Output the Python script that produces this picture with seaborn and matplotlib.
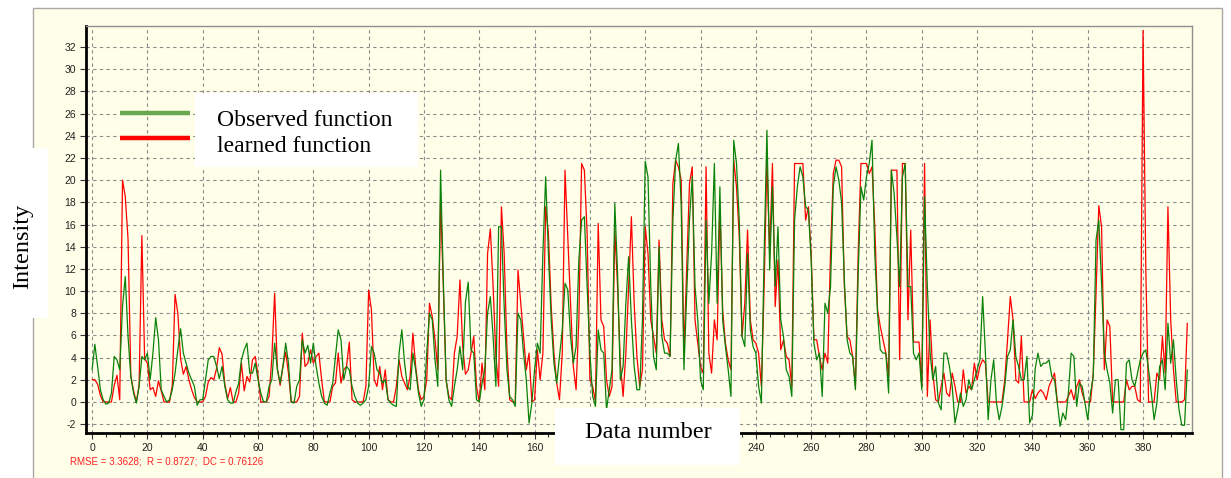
import numpy as np
import pandas as pd
import matplotlib
matplotlib.use("Agg")
import matplotlib.pyplot as plt
from matplotlib.patches import Rectangle
from matplotlib.lines import Line2D
from matplotlib.ticker import MultipleLocator
import seaborn as sns

# Observed intensity series (one value per data number, 0..396)
observed = [
    2.9, 5.2, 3.2, 1.1, 0.2, -0.2, -0.1, 0.8, 4.1, 3.8,
    2.9, 8.6, 11.3, 5.9, 2.3, 0.8, -0.1, 1.4, 4.1, 3.8,
    4.4, 2.0, 4.4, 7.6, 5.6, 1.1, 0.5, 0.0, 0.2, 1.1,
    2.6, 4.7, 6.6, 4.4, 3.5, 2.6, 2.0, 1.4, -0.3, 0.2,
    0.2, 2.0, 3.8, 4.1, 4.1, 3.2, 2.1, 3.2, 1.4, 0.2,
    -0.1, -0.1, 0.9, 1.7, 3.8, 4.7, 5.3, 2.6, 2.6, 3.5,
    2.0, 0.8, 0.0, 0.0, 1.4, 2.0, 5.3, 2.9, 1.7, 3.2,
    5.3, 3.5, 0.0, -0.1, 1.4, 2.0, 5.6, 4.4, 5.1, 3.5,
    5.3, 3.2, 1.7, 0.5, -0.1, -0.3, 0.8, 1.7, 4.1, 6.5,
    5.6, 2.0, 3.2, 2.9, 1.4, 0.5, -0.1, -0.3, -0.1, 0.2,
    1.4, 5.0, 4.4, 2.9, 2.6, 1.7, 2.0, 0.2, -0.1, -0.3,
    -0.4, 4.4, 6.5, 3.5, 1.4, 1.1, 4.4, 2.9, 0.8, -0.4,
    0.2, 4.4, 8.0, 7.4, 3.8, 1.4, 20.9, 11.0, 2.0, 0.2,
    -0.4, 1.4, 2.9, 5.0, 2.9, 9.0, 10.8, 4.7, 4.4, 0.2,
    0.0, 1.7, 2.9, 8.0, 9.5, 5.9, 1.4, 15.8, 15.8, 8.6,
    2.9, 0.5, 0.2, -0.4, 8.0, 7.4, 4.4, 2.0, -1.9, -0.1,
    2.9, 5.3, 4.4, 13.4, 20.3, 13.4, 7.4, 3.5, 1.7, 4.1,
    6.5, 10.7, 10.1, 5.9, 3.5, 5.0, 12.8, 16.4, 16.7, 10.4,
    4.4, 0.5, -0.4, 6.5, 4.7, 4.4, -0.7, 1.1, 2.9, 17.9,
    11.6, 2.0, 3.2, 8.9, 13.1, 7.4, 3.2, 1.1, 1.1, 7.4,
    21.7, 20.3, 10.4, 4.1, 2.9, 14.0, 5.9, 4.4, 4.4, 4.1,
    16.4, 21.8, 23.3, 17.9, 2.9, 9.8, 16.4, 20.3, 10.4, 7.4,
    2.0, 1.1, 16.4, 8.9, 13.4, 21.5, 8.9, 19.4, 7.4, 5.0,
    2.9, 0.5, 23.6, 21.5, 16.4, 5.9, 5.0, 13.4, 6.5, 5.0,
    4.4, 1.4, -0.1, 13.4, 24.5, 11.9, 19.4, 10.4, 15.8, 7.4,
    5.9, 2.9, 2.3, 0.5, 16.4, 19.4, 21.2, 20.3, 17.6, 17.3,
    12.8, 5.3, 3.8, 4.4, 0.5, 8.9, 8.0, 10.4, 19.4, 21.2,
    20.0, 18.0, 11.0, 5.6, 4.4, 4.1, 1.1, 11.6, 19.4, 18.2,
    20.3, 21.5, 23.6, 13.4, 8.0, 4.7, 4.4, 4.4, 0.8, 20.9,
    18.8, 14.9, 10.4, 20.3, 21.5, 10.4, 10.4, 4.4, 3.8, 4.4,
    1.1, 18.5, 10.4, 4.4, 2.0, 3.2, -0.1, -0.7, 4.4, 4.4,
    3.2, 1.4, -1.9, -0.7, 0.8, -0.4, 0.2, 2.0, 1.1, 2.0,
    2.9, 3.8, 9.5, 4.4, -1.6, 2.0, 3.8, -0.1, -1.6, -0.4,
    1.4, 4.1, 4.7, 7.4, 4.1, 3.2, 2.0, 2.0, 4.1, -1.9,
    -1.2, 3.0, 4.4, 3.2, 3.5, 3.5, 3.8, 2.3, 2.0, -0.1,
    -2.2, -1.0, -1.6, 0.8, 4.4, 4.1, -0.4, 1.7, 1.4, -0.1,
    -1.6, 0.8, 2.3, 14.6, 16.4, 10.7, 4.4, 2.9, 1.7, -1.0,
    2.0, 2.0, -2.5, -2.5, 3.5, 3.8, 2.0, 1.4, 2.6, 3.8,
    4.4, 4.7, 2.9, 0.8, -1.6, -0.1, 3.2, 3.8, 1.1, 7.1,
    3.5, 5.6, 2.0, -0.7, -2.1, -2.1, 2.9,
]

# Learned (model) intensity series
learned = [
    2.0, 2.0, 1.6, 0.6, 0.0, 0.0, 0.0, 0.0, 1.5, 2.4,
    0.2, 20.0, 18.5, 14.7, 2.4, 1.0, 0.0, 1.5, 15.0, 3.9,
    3.5, 1.1, 1.3, 0.5, 1.9, 1.0, 0.0, 0.0, 0.0, 1.5,
    9.7, 8.0, 3.9, 2.5, 3.2, 2.0, 1.1, 0.4, 0.0, 0.0,
    0.0, 0.5, 1.8, 2.2, 2.0, 3.0, 4.9, 4.3, 1.6, 0.3,
    1.3, 0.0, 0.0, 0.8, 3.5, 1.0, 2.3, 1.8, 3.8, 4.1,
    2.4, 0.0, 0.0, 0.0, 0.5, 4.0, 9.8, 3.0, 1.5, 3.2,
    4.5, 2.6, 0.0, 0.0, 0.0, 0.5, 6.2, 3.2, 3.5, 4.7,
    3.5, 4.1, 4.4, 2.0, 0.0, 0.0, 0.0, 1.4, 1.7, 4.4,
    1.7, 2.9, 3.2, 5.4, 0.2, 0.0, 0.0, 0.0, 0.0, 1.4,
    10.1, 8.3, 2.0, 1.4, 3.2, 1.1, 2.9, 0.2, 0.0, 0.0,
    1.4, 3.8, 2.3, 1.7, 1.1, 2.3, 6.2, 3.2, 1.1, 0.2,
    0.5, 2.0, 8.9, 7.7, 5.6, 2.9, 18.2, 10.4, 2.0, 0.5,
    0.2, 4.4, 5.9, 11.0, 5.0, 2.5, 2.9, 4.4, 5.9, 1.4,
    0.0, 3.5, 1.1, 13.4, 15.6, 10.4, 4.1, 1.4, 17.6, 13.4,
    4.7, 0.2, 0.0, 0.0, 11.9, 8.9, 5.9, 2.9, 4.4, 0.0,
    0.2, 4.7, 2.0, 4.4, 17.6, 15.2, 8.6, 4.4, 1.7, 0.2,
    4.4, 20.9, 14.9, 8.9, 3.2, 1.1, 7.4, 21.5, 20.9, 15.2,
    2.0, 1.4, 0.0, 16.1, 7.4, 6.8, 2.0, 0.5, 1.4, 15.5,
    10.4, 3.5, 0.5, 4.4, 10.4, 16.7, 8.9, 4.1, 1.4, 2.9,
    15.8, 13.4, 7.4, 5.9, 4.4, 14.6, 7.4, 5.6, 5.3, 4.1,
    19.7, 21.8, 21.2, 20.0, 4.4, 11.9, 19.7, 21.2, 7.4, 5.3,
    3.2, 2.6, 21.2, 4.4, 2.6, 7.4, 5.6, 17.6, 8.3, 5.3,
    3.8, 2.9, 21.8, 19.4, 14.9, 5.9, 8.9, 15.5, 7.4, 5.6,
    5.3, 4.4, 1.4, 10.4, 21.8, 13.4, 21.5, 8.6, 12.8, 4.7,
    5.6, 4.1, 3.8, 1.4, 21.5, 21.5, 21.5, 21.5, 16.4, 17.6,
    13.4, 5.6, 5.6, 4.1, 2.9, 4.4, 3.5, 13.4, 20.6, 21.8,
    21.8, 21.2, 10.4, 5.9, 5.6, 4.1, 1.4, 13.4, 21.5, 21.5,
    21.5, 20.6, 21.2, 15.8, 8.3, 6.8, 5.6, 4.4, 2.3, 20.9,
    20.9, 20.9, 3.8, 21.5, 21.5, 7.4, 15.5, 5.4, 5.4, 5.4,
    1.4, 21.5, 0.5, 7.4, 2.6, 0.2, 0.0, 1.4, 2.6, 0.8,
    0.5, 2.6, 1.4, 0.0, 0.0, 2.9, 0.8, 1.4, 1.1, 3.5,
    2.0, 3.2, 3.8, 3.5, 0.0, 0.0, 0.0, 0.0, 0.0, 0.0,
    2.0, 5.6, 9.5, 7.4, 2.0, 1.7, 5.9, 0.0, 0.0, 0.0,
    1.1, 0.3, 0.8, 1.1, 0.8, 0.2, 1.4, 2.0, 2.6, 0.0,
    0.0, 0.0, 0.0, 0.5, 1.1, 0.2, 1.4, 2.0, 0.8, 0.0,
    0.0, 0.0, 2.6, 9.8, 17.7, 15.8, 2.9, 7.4, 6.8, 0.0,
    0.0, 0.0, 0.0, 0.0, 2.0, 1.1, 1.4, 1.4, 0.2, 0.0,
    33.5, 11.9, 0.0, 0.0, 0.0, 2.6, 2.0, 5.9, 2.6, 17.6,
    7.4, 2.9, 0.0, 0.0, 0.0, 0.2, 7.1,
]

x_ticks = list(range(0, 400, 20))
y_ticks = list(range(-2, 34, 2))
stats_text = "RMSE = 3.3628;  R = 0.8727;  DC = 0.76126"
legend_labels = ["Observed function", "learned function"]

W, H = 1231, 478
panel_color = "#FFFEE8"
green_line = "#0A820A"
green_legend = "#6AA84F"
red_line = "#FF0000"

sns.set_theme(style="ticks")
plt.rcParams["font.family"] = ["Liberation Sans", "DejaVu Sans"]
plt.rcParams["axes.unicode_minus"] = False

df = pd.DataFrame({
    "n": np.arange(len(observed)),
    "observed": observed,
    "learned": learned,
})

fig = plt.figure(figsize=(W / 100, H / 100), dpi=100)
fig.patch.set_facecolor("white")

# Pale chart panel behind the plotting area
fig.patches.append(Rectangle((33 / W, -0.01), (1222 - 33) / W, 1 - 8 / H + 0.01,
                             transform=fig.transFigure, facecolor=panel_color,
                             edgecolor="#A8A8A8", lw=1.0, zorder=-1))

ax = fig.add_axes([86 / W, 1 - 433 / H, (1192 - 86) / W, (433 - 26) / H])
ax.set_facecolor(panel_color)

sns.lineplot(data=df, x="n", y="learned", ax=ax, color=red_line, lw=0.9,
             estimator=None, zorder=3)
sns.lineplot(data=df, x="n", y="observed", ax=ax, color=green_line, lw=0.9,
             estimator=None, zorder=4)

ax.set_xlim(-2.2, 397.7)
ax.set_ylim(-2.8, 33.9)
ax.set_xticks(x_ticks)
ax.set_yticks(y_ticks)
ax.xaxis.set_minor_locator(MultipleLocator(5))
ax.set_xlabel("")
ax.set_ylabel("")

ax.grid(True, which="major", color="#8C8C8C", lw=0.8, ls=(0, (3, 3)))
ax.set_axisbelow(True)

for side in ("left", "bottom"):
    ax.spines[side].set_color("black")
    ax.spines[side].set_linewidth(2.0)
for side in ("top", "right"):
    ax.spines[side].set_visible(True)
    ax.spines[side].set_color("#909090")
    ax.spines[side].set_linewidth(1.0)

ax.tick_params(axis="both", which="major", labelsize=7.5, labelcolor="#222222",
               color="#333333", length=4, width=0.8, pad=3)
ax.tick_params(axis="x", which="minor", length=3, width=0.8, color="#333333")

# Axis titles in white boxes
serif = ["Liberation Serif", "DejaVu Serif"]
fig.patches.append(Rectangle((0, 1 - 318 / H), 48 / W, 170 / H,
                             transform=fig.transFigure, facecolor="white",
                             edgecolor="none", zorder=5))
fig.text(23 / W, 1 - 246 / H, "Intensity", rotation=90, ha="center",
         va="center", fontsize=17.5, family=serif, color="black", zorder=6)

fig.patches.append(Rectangle((555 / W, 1 - 465 / H), 185 / W, 57 / H,
                             transform=fig.transFigure, facecolor="white",
                             edgecolor="none", zorder=5))
fig.text(648 / W, 1 - 433 / H, "Data number", ha="center", va="center",
         fontsize=17.5, family=serif, color="black", zorder=6)

# Legend: coloured swatches plus labels on a white card
fig.patches.append(Rectangle((195 / W, 1 - 167 / H), 223 / W, 74 / H,
                             transform=fig.transFigure, facecolor="white",
                             edgecolor="none", zorder=5))
for y_px, col, lab in ((113, green_legend, legend_labels[0]),
                       (138, red_line, legend_labels[1])):
    fig.lines.append(Line2D([120 / W, 190 / W], [1 - y_px / H, 1 - y_px / H],
                            transform=fig.transFigure, color=col, lw=3.2,
                            solid_capstyle="butt", zorder=6))
    fig.text(217 / W, 1 - (y_px + 8) / H, lab, ha="left", va="center",
             fontsize=17, family=serif, color="black", zorder=6)

fig.text(70 / W, 1 - 461 / H, stats_text, ha="left", va="center",
         fontsize=7, color="#FF2020")

fig.savefig("out.png", dpi=100, facecolor="white")
